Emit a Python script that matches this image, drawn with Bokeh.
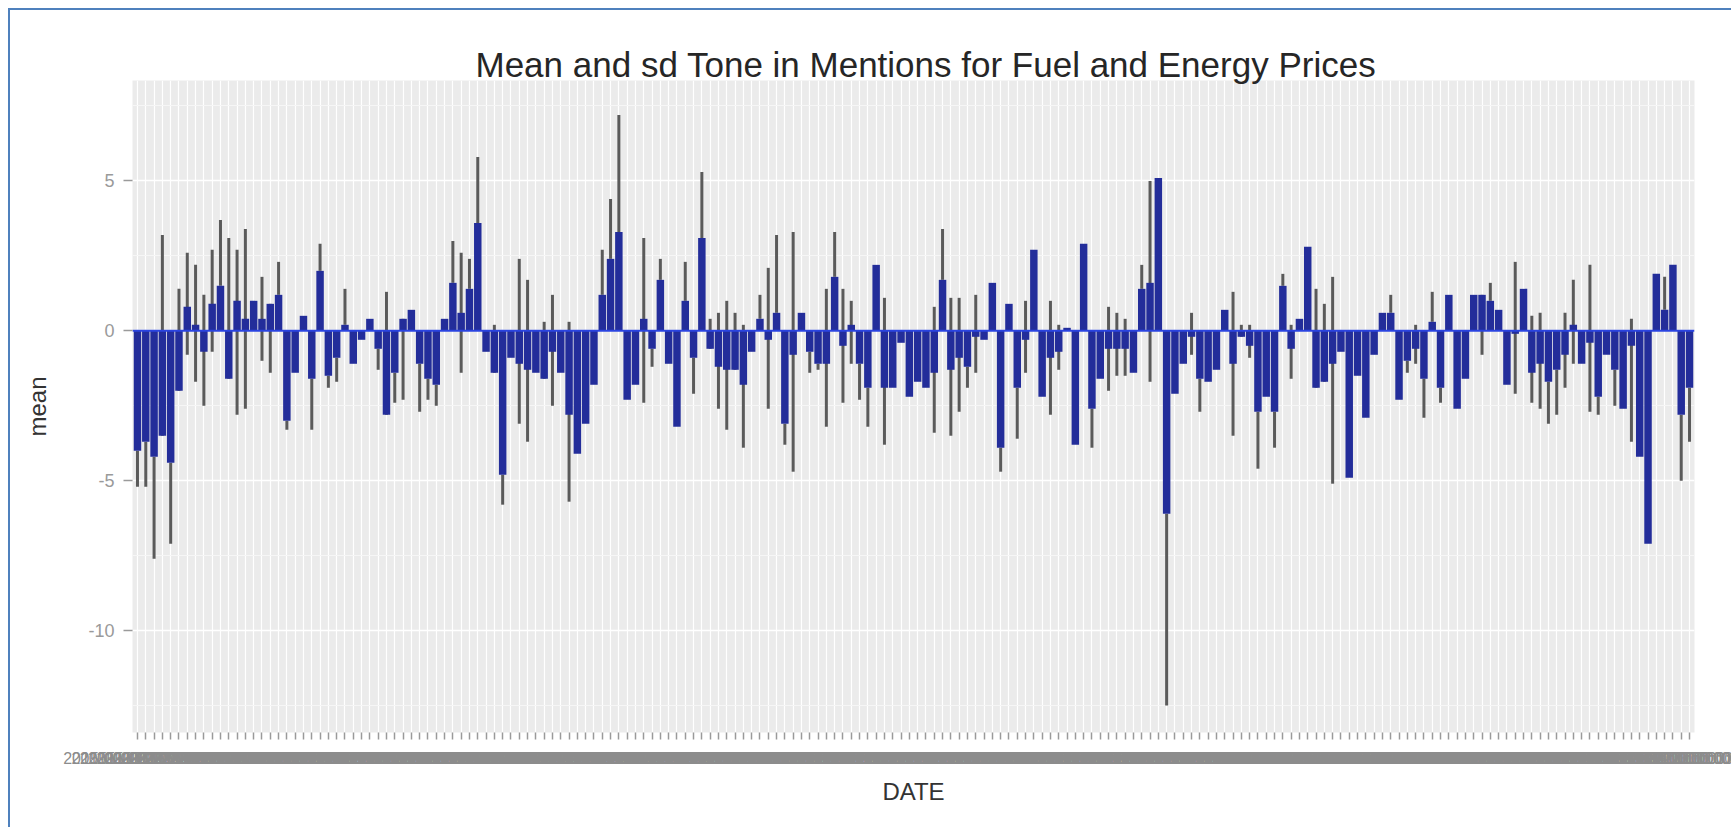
import pandas as pd
from bokeh.plotting import figure
from bokeh.models import Range1d, FixedTicker, Span
from bokeh.embed import file_html
from bokeh.resources import INLINE

# ---- data ----
dates = [d.strftime("%Y-%m-%d %H:%M:%S") for d in pd.date_range("2015-02-18", periods=188, freq="D")]

mean = [
    -4.0, -3.7, -4.2, -3.5, -4.4, -2.0, 0.8, 0.2, -0.7, 0.9, 1.5, -1.6, 1.0, 0.4, 1.0, 0.4, 0.9, 1.2, -3.0, -1.4,
    0.5, -1.6, 2.0, -1.5, -0.9, 0.2, -1.1, -0.3,
    0.4, -0.6, -2.8, -1.4, 0.4, 0.7, -1.1, -1.6, -1.8, 0.4, 1.6, 0.6, 1.4, 3.6, -0.7, -1.4, -4.8, -0.9, -1.1, -1.3,
    -1.4, -1.6, -0.7, -1.4, -2.8, -4.1, -3.1, -1.8, 1.2, 2.4, 3.3,
    -2.3, -1.8, 0.4, -0.6, 1.7, -1.1, -3.2, 1.0, -0.9, 3.1, -0.6, -1.2, -1.3, -1.3, -1.8, -0.7, 0.4, -0.3, 0.6, -3.1,
    -0.8, 0.6, -0.7, -1.1, -1.1, 1.8, -0.5, 0.2, -1.1, -1.9, 2.2,
    -1.9, -1.9, -0.4, -2.2, -1.7, -1.9, -1.4, 1.7, -1.3, -0.9, -1.2, -0.2, -0.3, 1.6, -3.9, 0.9, -1.9, -0.3, 2.7, -2.2,
    -0.9, -0.7, 0.1, -3.8, 2.9, -2.6, -1.6, -0.6, -0.6, -0.6,
    -1.4, 1.4, 1.6, 5.1, -6.1, -2.1, -1.1, -0.2, -1.6, -1.7, -1.3, 0.7, -1.1, -0.2, -0.5, -2.7, -2.2, -2.7, 1.5, -0.6,
    0.4, 2.8, -1.9, -1.7, -1.1, -0.7, -4.9, -1.5, -2.9, -0.8, 0.6,
    0.6, -2.3, -1.0, -0.6, -1.6, 0.3, -1.9, 1.2, -2.6, -1.6, 1.2, 1.2, 1.0, 0.7, -1.8, -0.1, 1.4, -1.4, -1.1, -1.7,
    -1.3, -0.8, 0.2, -1.1, -0.4, -2.2, -0.8, -1.3, -2.6, -0.5, -4.2, -7.1, 1.9, 0.7, 2.2, -2.8, -1.9,
]

sd_low = [
    -5.2, -5.2, -7.6, -3.5, -7.1, -2.0, -0.8, -1.7, -2.5, -0.7, 1.5, -1.6, -2.8, -2.6, 1.0, -1.0, -1.4, 1.2, -3.3, -1.4,
    0.5, -3.3, 2.0, -1.9, -1.7, 0.2, -1.1, -0.3,
    0.4, -1.3, -2.8, -2.4, -2.3, 0.7, -2.7, -2.3, -2.5, 0.4, 1.6, -1.4, 1.4, 3.6, -0.7, -1.4, -5.8, -0.9, -3.1, -3.7,
    -1.4, -1.6, -2.5, -1.4, -5.7, -4.1, -3.1, -1.8, 1.2, 2.4, 3.3,
    -2.3, -1.8, -2.4, -1.2, 1.7, -1.1, -3.2, 1.0, -2.1, 3.1, -0.6, -2.6, -3.3, -1.3, -3.9, -0.7, 0.4, -2.6, 0.6, -3.8,
    -4.7, 0.6, -1.4, -1.3, -3.2, 1.8, -2.4, -1.1, -2.3, -3.2, 2.2,
    -3.8, -1.9, -0.4, -2.2, -1.7, -1.9, -3.4, 1.7, -3.5, -2.7, -1.9, -1.4, -0.3, 1.6, -4.7, 0.9, -3.6, -1.4, 2.7, -2.2,
    -2.8, -1.3, 0.1, -3.8, 2.9, -3.9, -1.6, -2.0, -1.5, -1.5,
    -1.4, 1.4, -1.7, 5.1, -12.5, -2.1, -1.1, -0.8, -2.7, -1.7, -1.3, 0.7, -3.5, -0.2, -0.9, -4.6, -2.2, -3.9, 1.5, -1.6,
    0.4, 2.8, -1.9, -1.7, -5.1, -0.7, -4.9, -1.5, -2.9, -0.8, 0.6,
    0.6, -2.3, -1.4, -1.1, -2.9, 0.3, -2.4, 1.2, -2.6, -1.6, 1.2, -0.8, 1.0, 0.7, -1.8, -2.1, 1.4, -2.4, -2.6, -3.1,
    -2.8, -1.9, -1.1, -1.1, -2.7, -2.8, -0.8, -2.5, -2.6, -3.7, -4.2, -7.1, 1.9, 0.7, 2.2, -5.0, -3.7,
]

sd_high = [
    -4.0, -3.7, -4.2, 3.2, -4.4, 1.4, 2.6, 2.2, 1.2, 2.7, 3.7, 3.1, 2.7, 3.4, 1.0, 1.8, 0.9, 2.3, -3.0, -1.4,
    0.5, -1.6, 2.9, -1.5, -0.9, 1.4, -1.1, -0.3,
    0.4, -0.6, 1.3, -1.4, 0.4, 0.7, -1.1, -1.6, -1.8, 0.4, 3.0, 2.6, 2.4, 5.8, -0.7, 0.2, -4.8, -0.9, 2.4, 1.7,
    -1.4, 0.3, 1.2, -1.4, 0.3, -4.1, -3.1, -1.8, 2.7, 4.4, 7.2,
    -2.3, -1.8, 3.1, -0.6, 2.4, -1.1, -3.2, 2.3, -0.9, 5.3, 0.4, 0.6, 1.0, 0.6, 0.2, -0.7, 1.2, 2.1, 3.2, -3.1,
    3.3, 0.6, -0.7, -1.1, 1.4, 3.3, 1.4, 1.0, -1.1, -1.9, 2.2,
    1.1, -1.9, -0.4, -2.2, -1.7, -1.9, 0.8, 3.4, 1.1, 1.1, -1.2, 1.2, -0.3, 1.6, -3.9, 0.9, -1.9, 1.0, 2.7, -2.2,
    1.0, 0.2, 0.1, -3.8, 2.9, -2.6, -1.6, 0.8, 0.6, 0.4,
    -1.4, 2.2, 5.0, 5.1, -6.1, -2.1, -1.1, 0.6, -1.6, -1.7, -1.3, 0.7, 1.3, 0.2, 0.2, -2.7, -2.2, -2.7, 1.9, 0.2,
    0.4, 2.8, 1.4, 0.9, 1.8, -0.7, -4.9, -1.5, -2.9, -0.8, 0.6,
    1.2, -2.3, -1.0, 0.2, -1.6, 1.3, -1.9, 1.2, -2.6, -1.6, 1.2, 1.2, 1.6, 0.7, -1.8, 2.3, 1.4, 0.5, 0.6, -1.7,
    -1.3, 0.6, 1.7, -1.1, 2.2, -2.2, -0.8, -1.3, -2.6, 0.4, -4.2, -7.1, 1.9, 1.8, 2.2, -2.8, -1.9,
]

y_ticks = [-10, -5, 0, 5]
y_minor = [-12.5, -7.5, -2.5, 2.5, 7.5]

N = len(mean)
xs = list(range(1, N + 1))

FONT = "Liberation Sans"

p = figure(
    width=1731, height=827,
    output_backend="svg", toolbar_location=None,
    x_range=Range1d(0.4, N + 0.6), y_range=Range1d(-13.4, 8.35),
    min_border_left=132, min_border_right=37, min_border_top=80, min_border_bottom=95,
    background_fill_color="#ebebeb", border_fill_color=None, outline_line_color=None,
    title="Mean and sd Tone in Mentions for Fuel and Energy Prices",
)
# thin blue frame round the picture (top and left edges)
p.styles = {"box-shadow": "inset 8px 8px 0 0 #ffffff, inset 10px 10px 0 0 #4f81bd"}

p.title.align = "left"
p.title.offset = 343
p.title.text_font = FONT
p.title.text_font_size = "35px"
p.title.text_font_style = "normal"
p.title.text_color = "#262626"
p.title.standoff = -6

# x axis
xt = FixedTicker(ticks=xs, minor_ticks=[])
p.xaxis.ticker = xt
p.xaxis.major_label_overrides = {x: d for x, d in zip(xs, dates)}
p.xaxis.major_label_text_font = FONT
p.xaxis.major_label_text_font_size = "16px"
p.xaxis.major_label_text_color = "#8c8c8c"
p.xaxis.major_label_standoff = 10
p.xaxis.major_tick_out = 7
p.xaxis.axis_label = "DATE"
p.xaxis.axis_label_standoff = 8
p.xgrid.ticker = xt
p.xgrid.grid_line_color = "white"
p.xgrid.grid_line_width = 1.2

# y axis
yt = FixedTicker(ticks=y_ticks, minor_ticks=y_minor)
p.yaxis.ticker = yt
p.yaxis.major_label_overrides = {v: str(v) for v in y_ticks}
p.yaxis.major_label_text_font = FONT
p.yaxis.major_label_text_font_size = "18px"
p.yaxis.major_label_text_color = "#9a9a9a"
p.yaxis.major_label_standoff = 9
p.yaxis.major_tick_out = 9
p.yaxis.axis_label = "mean"
p.yaxis.axis_label_standoff = 34
p.ygrid.grid_line_color = "white"
p.ygrid.grid_line_width = 1.6
p.ygrid.minor_grid_line_color = "#f6f6f6"
p.ygrid.minor_grid_line_width = 1

for ax in (p.xaxis, p.yaxis):
    ax.axis_line_color = None
    ax.major_tick_line_color = "#9a9a9a"
    ax.major_tick_line_width = 1.5
    ax.major_tick_in = 0
    ax.minor_tick_line_color = None
    ax.axis_label_text_font = FONT
    ax.axis_label_text_font_size = "24px"
    ax.axis_label_text_font_style = "normal"
    ax.axis_label_text_color = "#333333"

# sd ranges (behind) and mean bars
p.segment(x0=xs, y0=sd_low, x1=xs, y1=sd_high, line_color="#5a5a5a", line_width=3, line_cap="butt")
p.vbar(x=xs, top=mean, bottom=0, width=0.9, fill_color="#232d9a", line_color=None)
p.add_layout(Span(location=0, dimension="width", line_color="#2b44e0", line_width=2))

open("out.html", "w").write(file_html(p, INLINE, title="Mean and sd Tone"))
